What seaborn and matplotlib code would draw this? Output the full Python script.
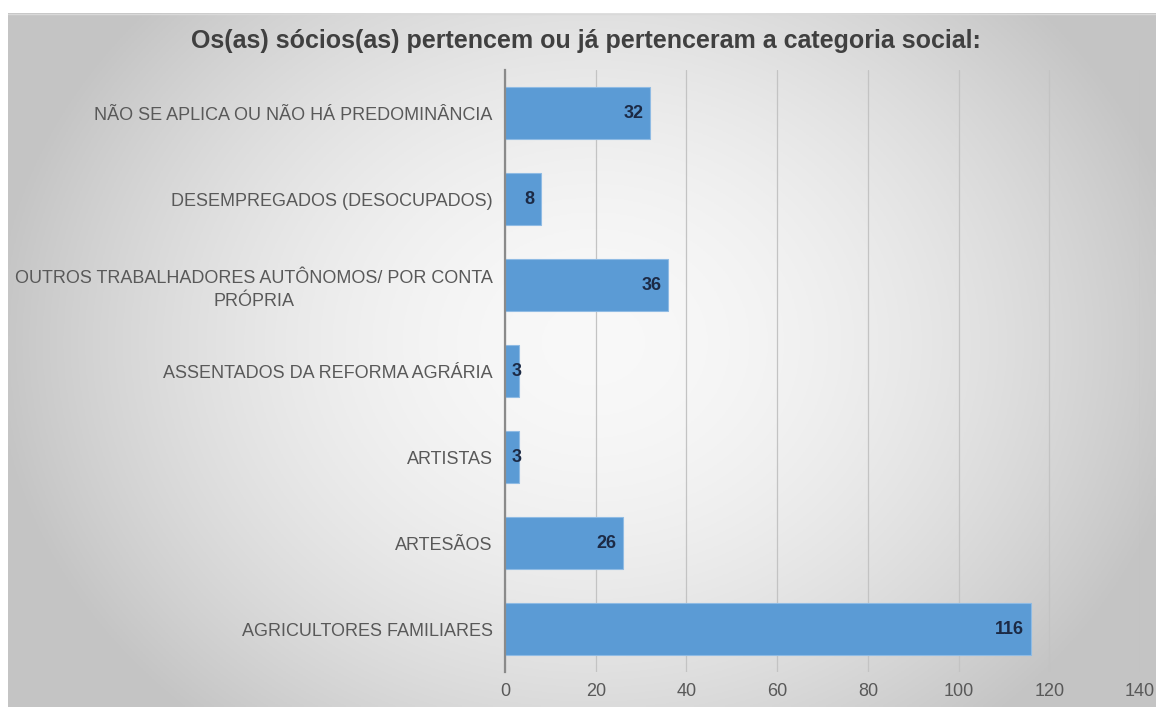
import numpy as np
import matplotlib
matplotlib.use("Agg")
import matplotlib.pyplot as plt
import seaborn as sns

sns.set_style("white")
plt.rcParams["font.family"] = ["Liberation Sans", "DejaVu Sans"]

# ---------------- data ----------------
categories = [
    "NÃO SE APLICA OU NÃO HÁ PREDOMINÂNCIA",
    "DESEMPREGADOS (DESOCUPADOS)",
    "OUTROS TRABALHADORES AUTÔNOMOS/ POR CONTA\nPRÓPRIA",
    "ASSENTADOS DA REFORMA AGRÁRIA",
    "ARTISTAS",
    "ARTESÃOS",
    "AGRICULTORES FAMILIARES",
]
values = [32, 8, 36, 3, 3, 26, 116]
x_ticks = [0, 20, 40, 60, 80, 100, 120, 140]
title = "Os(as) sócios(as) pertencem ou já pertenceram a categoria social:"

BAR = "#5b9bd5"
TXT = "#595959"

W, H = 1156, 707
fig = plt.figure(figsize=(W / 100, H / 100), dpi=100, facecolor="white")

# ---------------- gradient background (chart area) ----------------
bg = fig.add_axes([8 / W, 0, 1 - 8 / W, 1 - 13 / H], zorder=-5)
gx, gy = np.meshgrid(np.linspace(-1, 1, 400), np.linspace(-1, 1, 250))
r = np.sqrt(((gx - 0.02) / 1.05) ** 2 + ((gy + 0.05) / 1.45) ** 2)
r = np.clip(r, 0, 1) ** 1.8
c0, c1 = 0.975, 0.77
shade = c0 + (c1 - c0) * r
bg.imshow(np.dstack([shade] * 3), aspect="auto", extent=[0, 1, 0, 1])
bg.axhline(0.998, color="#d9d9d9", lw=1)
bg.axis("off")

# ---------------- bars ----------------
ax = fig.add_axes([505 / W, 1 - 672 / H, 635 / W, (672 - 70) / H])
ax.set_facecolor("none")
sns.barplot(x=values, y=categories, orient="h", color=BAR, saturation=1,
            width=0.6, ax=ax, zorder=3, edgecolor="#8fbbe4", linewidth=0.8)

ax.set_xlim(0, 140)
ax.set_xticks(x_ticks)
ax.set_xticklabels([str(t) for t in x_ticks], fontsize=13, color=TXT)
ax.tick_params(axis="x", length=0, pad=8)
ax.tick_params(axis="y", length=0, pad=9)
for lbl in ax.get_yticklabels():
    lbl.set_fontsize(13)
    lbl.set_color(TXT)
    lbl.set_multialignment("center")
    lbl.set_linespacing(1.5)
ax.set_xlabel("")
ax.set_ylabel("")

ax.xaxis.grid(True, color="#c3c3c3", lw=0.9, zorder=0)
ax.set_axisbelow(True)
for side in ["top", "right", "bottom"]:
    ax.spines[side].set_visible(False)
ax.spines["left"].set_color("#8a8a8a")
ax.spines["left"].set_linewidth(1.6)
ax.spines["left"].set_zorder(4)

# value labels at inside end; tiny bars get the label at the base
px_per_unit = 635 / 140
for patch, v in zip(ax.patches, values):
    yc = patch.get_y() + patch.get_height() / 2
    if v * px_per_unit < 25:
        ax.annotate(str(v), xy=(0, yc), xytext=(4.5, 0),
                    textcoords="offset points", ha="left", va="center",
                    fontsize=13, fontweight="bold", color="#1c2a45", zorder=5)
    else:
        ax.annotate(str(v), xy=(v, yc), xytext=(-5, 0),
                    textcoords="offset points", ha="right", va="center",
                    fontsize=13, fontweight="bold", color="#1c2a45", zorder=5)

fig.text(586 / W, 1 - 41 / H, title, ha="center", va="center",
         fontsize=18, fontweight="bold", color="#404040")

fig.savefig("out.png", dpi=100, facecolor="white")
